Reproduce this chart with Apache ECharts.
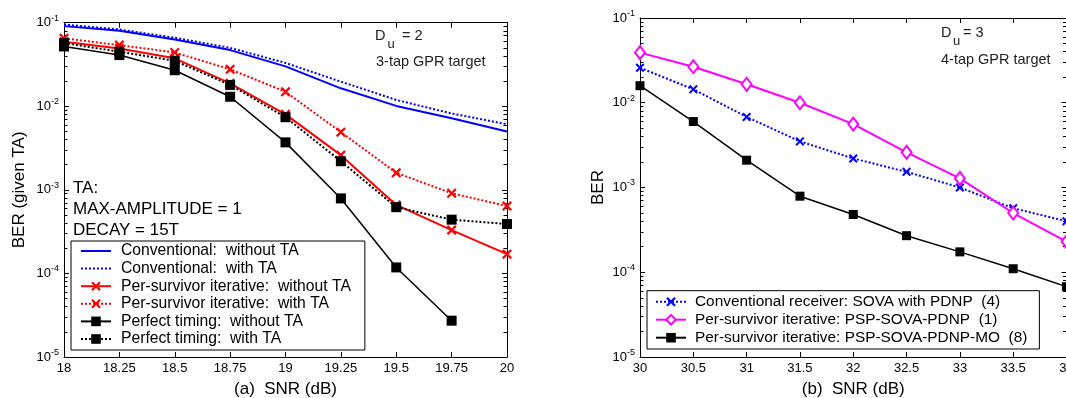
<!DOCTYPE html>
<html>
<head>
<meta charset="utf-8">
<script src="https://cdn.jsdelivr.net/npm/echarts@6/dist/echarts.min.js"></script>
<style>
html,body{margin:0;padding:0;background:#fff;}
#c{width:1066px;height:398px;}
</style>
</head>
<body>
<div id="c"></div>
<script>
// ---- data (a): Du = 2, 3-tap GPR target ----
const snrA = [18, 18.25, 18.5, 18.75, 19, 19.25, 19.5, 19.75, 20];
const convNoTA = [0.091, 0.080, 0.063, 0.047, 0.030, 0.0164, 0.0101, 0.0072, 0.0050];
const convTA   = [0.095, 0.083, 0.066, 0.050, 0.033, 0.0197, 0.0119, 0.0082, 0.0061];
const psNoTA   = [0.059, 0.049, 0.0375, 0.0188, 0.0080, 0.0026, 0.00066, 0.00033, 0.00017];
const psTA     = [0.065, 0.054, 0.044, 0.0277, 0.0149, 0.0049, 0.0016, 0.00091, 0.00064];
const ptNoTA   = [0.052, 0.041, 0.027, 0.013, 0.0037, 0.00079, 0.000118, 0.0000272, null];
const ptTA     = [0.057, 0.045, 0.035, 0.018, 0.0074, 0.0022, 0.00062, 0.00044, 0.00039];
const xTicksA = {min: 18, max: 20, interval: 0.25};

// ---- data (b): Du = 3, 4-tap GPR target ----
const snrB = [30, 30.5, 31, 31.5, 32, 32.5, 33, 33.5, 34];
const sovaPDNP  = [0.0259, 0.0144, 0.0068, 0.0035, 0.0022, 0.00153, 0.0010, 0.00057, 0.00040];
const pspPDNP   = [0.039, 0.0266, 0.0165, 0.0100, 0.0056, 0.0026, 0.00128, 0.00050, 0.00023];
const pspPDNPMO = [0.0159, 0.0060, 0.0021, 0.00079, 0.00048, 0.00027, 0.000174, 0.000110, 0.0000675];
const xTicksB = {min: 30, max: 34, interval: 0.5};

const yMin = 1e-5, yMax = 1e-1;
const expMin = -5, expMax = -1;
// minor ticks (2..9 x 10^e), expressed as exponents for an overlaid linear tick axis
const minorTickExps = [];
for (let e = expMin; e < expMax; e++) for (let m = 2; m <= 9; m++) minorTickExps.push(e + Math.log10(m));

const FONT = 'Liberation Sans, Arial, sans-serif';
const X_PATH = 'path://M0,1.6L1.6,0L5,3.4L8.4,0L10,1.6L6.6,5L10,8.4L8.4,10L5,6.6L1.6,10L0,8.4L3.4,5Z';

function pairs(xs, ys) {
  const out = [];
  xs.forEach((x, i) => { if (ys[i] != null) out.push([x, ys[i]]); });
  return out;
}

function xAxes(grid, t, name) {
  return [
    {type: 'value', gridIndex: grid, position: 'bottom', min: t.min, max: t.max, interval: t.interval,
     name: name, nameLocation: 'middle', nameGap: 24,
     nameTextStyle: {fontFamily: FONT, fontSize: 17, color: '#000'},
     axisLine: {lineStyle: {color: '#000', width: 1}},
     axisTick: {inside: true, length: 5, lineStyle: {color: '#000'}},
     axisLabel: {fontFamily: FONT, fontSize: 13, color: '#000', margin: 5,
       formatter: v => String(+v.toFixed(2))},
     splitLine: {show: false}},
    {type: 'value', gridIndex: grid, position: 'top', min: t.min, max: t.max, interval: t.interval,
     axisLine: {lineStyle: {color: '#000', width: 1}},
     axisTick: {inside: true, length: 5, lineStyle: {color: '#000'}},
     axisLabel: {show: false}, splitLine: {show: false}}
  ];
}

function yAxes(grid, name, nameGap) {
  const base = {gridIndex: grid, splitLine: {show: false}};
  const logBase = Object.assign({type: 'log', logBase: 10, min: yMin, max: yMax, interval: 1}, base);
  const minorBase = Object.assign({type: 'value', min: expMin, max: expMax, interval: 1,
      axisLine: {show: true, onZero: false, lineStyle: {color: '#000', opacity: 0}},
      axisLabel: {show: false},
      axisTick: {show: true, inside: true, length: 3.5, customValues: minorTickExps, lineStyle: {color: '#000', width: 1}}}, base);
  return [
    Object.assign({}, logBase, {position: 'left', name: name, nameLocation: 'middle', nameGap: nameGap,
      nameTextStyle: {fontFamily: FONT, fontSize: 17, color: '#000'},
      axisLine: {show: true, lineStyle: {color: '#000', width: 1}},
      axisTick: {inside: true, length: 5, lineStyle: {color: '#000'}},
      axisLabel: {margin: 5, formatter: v => '{b|10}{s|' + Math.round(Math.log10(v)) + '}',
        rich: {b: {fontFamily: FONT, fontSize: 13, color: '#000'},
               s: {fontFamily: FONT, fontSize: 9, color: '#000', padding: [0, 0, 9, 0]}}}}),
    Object.assign({}, minorBase, {position: 'left'}),
    Object.assign({}, logBase, {position: 'right',
      axisLine: {show: true, lineStyle: {color: '#000', width: 1}},
      axisTick: {inside: true, length: 5, lineStyle: {color: '#000'}},
      axisLabel: {show: false}}),
    Object.assign({}, minorBase, {position: 'right'})
  ];
}

function line(name, data, color, dash, width, symbol, size, xi, yi, extra) {
  const s = {
    name: name, type: 'line', xAxisIndex: xi, yAxisIndex: yi, data: data,
    lineStyle: {color: color, width: width, type: dash ? 'dotted' : 'solid'},
    itemStyle: {color: color, opacity: symbol ? 1 : 0},
    symbol: symbol || 'none', symbolSize: size, showSymbol: !!symbol,
    clip: false, animation: false
  };
  return Object.assign(s, extra || {});
}

const seriesA = [
  line('Conventional:  without TA', pairs(snrA, convNoTA), '#0000ff', false, 2, null, 0, 0, 0),
  line('Conventional:  with TA', pairs(snrA, convTA), '#0000ff', true, 2, null, 0, 0, 0),
  line('Per-survivor iterative:  without TA', pairs(snrA, psNoTA), '#ff0000', false, 2, X_PATH, 10, 0, 0),
  line('Per-survivor iterative:  with TA', pairs(snrA, psTA), '#ff0000', true, 2, X_PATH, 10, 0, 0),
  line('Perfect timing:  without TA', pairs(snrA, ptNoTA), '#000000', false, 1.5, 'rect', 10, 0, 0),
  line('Perfect timing:  with TA', pairs(snrA, ptTA), '#000000', true, 2, 'rect', 10, 0, 0)
];
const seriesB = [
  line('Conventional receiver: SOVA with PDNP  (4)', pairs(snrB, sovaPDNP), '#0000ff', true, 2, X_PATH, 9, 2, 4),
  line('Per-survivor iterative: PSP-SOVA-PDNP  (1)', pairs(snrB, pspPDNP), '#ff00ff', false, 2, 'emptyDiamond', [10, 13], 2, 4,
       {itemStyle: {color: '#ff00ff', borderColor: '#ff00ff', borderWidth: 1.5}}),
  line('Per-survivor iterative: PSP-SOVA-PDNP-MO  (8)', pairs(snrB, pspPDNPMO), '#000000', false, 1.5, 'rect', 9, 2, 4)
];

function legendData(series) {
  return series.map(s => s.symbol === 'none' ? {name: s.name, itemStyle: {opacity: 0}} : {name: s.name});
}

const option = {
  animation: false,
  backgroundColor: '#fff',
  grid: [
    {left: 64, top: 22.7, width: 443, bottom: 41, outerBoundsMode: 'none', containLabel: false},
    {left: 640, top: 18, width: 426.5, bottom: 41, outerBoundsMode: 'none', containLabel: false}
  ],
  xAxis: [].concat(xAxes(0, xTicksA, '(a)  SNR (dB)'), xAxes(1, xTicksB, '(b)  SNR (dB)')),
  yAxis: [].concat(yAxes(0, 'BER (given TA)', 36), yAxes(1, 'BER', 33)),
  legend: [
    {data: legendData(seriesA), orient: 'vertical', left: 71, top: 241,
     itemWidth: 30, itemHeight: 12, itemGap: 0.6, padding: [1.5, 14, 2.5, 9],
     borderColor: '#000', borderWidth: 1, backgroundColor: '#fff',
     textStyle: {fontFamily: FONT, fontSize: 15.7, color: '#000', lineHeight: 17, padding: [0, 0, 0, 5]}},
    {data: legendData(seriesB), orient: 'vertical', left: 647, top: 290.7,
     itemWidth: 30, itemHeight: 12, itemGap: 0, padding: [2, 12, 2.3, 8],
     borderColor: '#000', borderWidth: 1, backgroundColor: '#fff',
     textStyle: {fontFamily: FONT, fontSize: 15.4, color: '#000', lineHeight: 18, padding: [0, 0, 0, 4]}}
  ],
  graphic: [
    {type: 'text', x: 73, y: 188, style: {text: 'TA:', font: '17px ' + FONT, fill: '#000', verticalAlign: 'middle'}},
    {type: 'text', x: 73, y: 209, style: {text: 'MAX-AMPLITUDE = 1', font: '17px ' + FONT, fill: '#000', verticalAlign: 'middle'}},
    {type: 'text', x: 73, y: 230, style: {text: 'DECAY = 15T', font: '17px ' + FONT, fill: '#000', verticalAlign: 'middle'}},
    {type: 'text', x: 375, y: 36, style: {text: 'D', font: '14.5px ' + FONT, fill: '#222', verticalAlign: 'middle'}},
    {type: 'text', x: 387.5, y: 44, style: {text: 'u', font: '13px ' + FONT, fill: '#222', verticalAlign: 'middle'}},
    {type: 'text', x: 398, y: 36, style: {text: ' = 2', font: '14.5px ' + FONT, fill: '#222', verticalAlign: 'middle'}},
    {type: 'text', x: 376, y: 62, style: {text: '3-tap GPR target', font: '14.5px ' + FONT, fill: '#222', verticalAlign: 'middle'}},
    {type: 'text', x: 941, y: 33, style: {text: 'D', font: '14.5px ' + FONT, fill: '#222', verticalAlign: 'middle'}},
    {type: 'text', x: 953, y: 41.5, style: {text: 'u', font: '13px ' + FONT, fill: '#222', verticalAlign: 'middle'}},
    {type: 'text', x: 959, y: 33, style: {text: ' = 3', font: '14.5px ' + FONT, fill: '#222', verticalAlign: 'middle'}},
    {type: 'text', x: 941, y: 60, style: {text: '4-tap GPR target', font: '14.5px ' + FONT, fill: '#222', verticalAlign: 'middle'}}
  ],
  series: [].concat(seriesA, seriesB)
};

const chart = echarts.init(document.getElementById('c'), null, {renderer: 'canvas'});
chart.setOption(option);
</script>
</body>
</html>
